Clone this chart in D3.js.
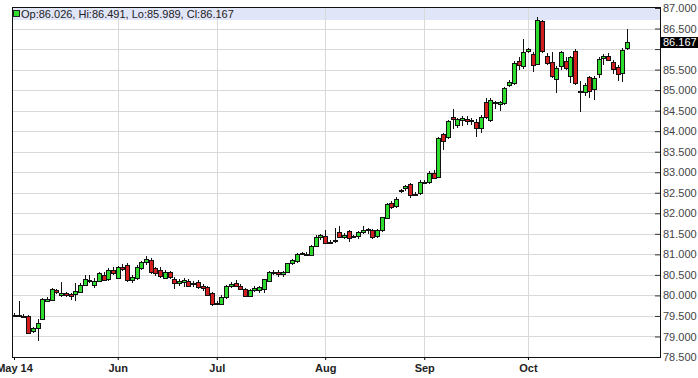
<!DOCTYPE html>
<html>
<head>
<meta charset="utf-8">
<script src="https://cdn.jsdelivr.net/npm/d3@7"></script>
<style>
    body { margin: 0; background: #fff; }
    svg { display: block; font-family: Arial, "Liberation Sans", sans-serif; }
    .yLabel text { font-size: 11px; fill: #444; }
    .xLabel text { font-size: 11px; font-weight: bold; fill: #222; }
</style>
</head>
<body>
<svg width="698" height="378"></svg>
<script>
// daily candles, May 1 2014 -> Oct 30 2014 (weekdays)
const opens = [
    79.52, 79.53, 79.51, 79.50, 79.12, 79.22, 79.42, 79.85, 79.89, 80.12,
    79.99, 80.05, 80.03, 80.03, 80.09, 80.25, 80.38, 80.26, 80.35, 80.49,
    80.40, 80.62, 80.42, 80.70, 80.74, 80.37, 80.44, 80.68, 80.80, 80.86,
    80.66, 80.62, 80.44, 80.56, 80.40, 80.31, 80.31, 80.36, 80.28, 80.32,
    80.22, 80.20, 80.05, 79.80, 79.81, 79.95, 80.23, 80.30, 80.24, 80.15,
    79.99, 80.13, 80.12, 80.15, 80.37, 80.57, 80.56, 80.52, 80.56, 80.78,
    80.84, 81.03, 81.02, 81.00, 81.21, 81.40, 81.45, 81.31, 81.33, 81.54,
    81.43, 81.57, 81.45, 81.45, 81.53, 81.60, 81.59, 81.45, 81.58, 81.88,
    82.24, 82.19, 82.57, 82.61, 82.71, 82.48, 82.49, 82.77, 82.76, 82.99,
    82.88, 83.92, 83.85, 84.35, 84.15, 84.25, 84.30, 84.24, 84.23, 84.09,
    84.72, 84.27, 84.71, 84.66, 84.68, 85.12, 85.17, 85.71, 85.61, 85.94,
    85.87, 85.65, 86.68, 85.84, 85.68, 85.26, 85.57, 85.72, 85.34, 85.95,
    84.98, 84.96, 85.31, 85.04, 85.38, 85.78, 85.84, 85.69, 85.57, 85.41,
    86.026
];
const highs = [
    79.56, 79.87, 79.55, 79.52, 79.22, 79.42, 79.93, 79.95, 80.18, 80.16,
    80.33, 80.08, 80.05, 80.30, 80.30, 80.50, 80.50, 80.42, 80.58, 80.56,
    80.66, 80.68, 80.72, 80.76, 80.80, 80.50, 80.75, 80.85, 80.95, 80.90,
    80.70, 80.68, 80.62, 80.60, 80.45, 80.40, 80.42, 80.40, 80.36, 80.38,
    80.28, 80.24, 80.08, 79.86, 80.00, 80.25, 80.33, 80.38, 80.28, 80.18,
    80.15, 80.22, 80.24, 80.40, 80.60, 80.62, 80.63, 80.60, 80.80, 80.88,
    81.04, 81.06, 81.05, 81.23, 81.46, 81.50, 81.59, 81.35, 81.65, 81.69,
    81.52, 81.60, 81.48, 81.58, 81.69, 81.64, 81.62, 81.62, 81.92, 82.24,
    82.30, 82.40, 82.60, 82.70, 82.74, 82.52, 82.80, 82.80, 83.02, 83.05,
    83.86, 83.96, 84.28, 84.53, 84.33, 84.38, 84.36, 84.32, 84.30, 84.40,
    84.80, 84.80, 84.74, 84.74, 85.08, 85.24, 85.70, 85.80, 86.24, 86.02,
    85.92, 86.79, 86.71, 85.90, 85.94, 85.58, 85.96, 85.80, 85.84, 86.00,
    85.22, 85.18, 85.35, 85.34, 85.80, 85.88, 85.90, 85.73, 85.62, 86.02,
    86.491
];
const lows = [
    79.48, 79.48, 79.46, 79.06, 79.08, 78.90, 79.40, 79.83, 79.86, 80.04,
    79.97, 79.95, 79.89, 79.87, 80.05, 80.22, 80.30, 80.18, 80.32, 80.34,
    80.36, 80.50, 80.40, 80.60, 80.32, 80.30, 80.37, 80.62, 80.74, 80.52,
    80.48, 80.42, 80.40, 80.40, 80.15, 80.22, 80.20, 80.22, 80.20, 80.15,
    80.10, 79.98, 79.74, 79.76, 79.78, 79.92, 80.18, 80.20, 80.12, 79.96,
    79.95, 80.08, 80.06, 80.06, 80.34, 80.50, 80.46, 80.46, 80.54, 80.74,
    80.80, 80.98, 80.96, 80.97, 81.18, 81.35, 81.25, 81.26, 81.28, 81.40,
    81.38, 81.30, 81.40, 81.38, 81.50, 81.50, 81.38, 81.40, 81.55, 81.85,
    82.10, 82.12, 82.50, 82.55, 82.38, 82.42, 82.45, 82.72, 82.72, 82.85,
    82.86, 83.55, 83.80, 84.05, 84.08, 84.12, 84.15, 84.16, 83.87, 83.95,
    84.30, 84.22, 84.55, 84.48, 84.63, 85.08, 85.13, 85.50, 85.51, 85.90,
    85.45, 85.62, 85.90, 85.60, 85.30, 84.94, 85.50, 85.50, 85.17, 85.12,
    84.47, 84.85, 84.80, 84.76, 85.30, 85.60, 85.70, 85.40, 85.22, 85.20,
    85.989
];
const closes = [
    79.53, 79.51, 79.50, 79.08, 79.20, 79.34, 79.91, 79.91, 80.16, 80.08,
    80.05, 79.99, 79.97, 80.11, 80.25, 80.39, 80.36, 80.35, 80.55, 80.38,
    80.62, 80.55, 80.68, 80.64, 80.37, 80.44, 80.70, 80.82, 80.88, 80.56,
    80.55, 80.47, 80.58, 80.44, 80.31, 80.35, 80.37, 80.25, 80.30, 80.21,
    80.18, 80.01, 79.78, 79.81, 79.97, 80.23, 80.28, 80.23, 80.17, 79.99,
    80.13, 80.17, 80.20, 80.39, 80.58, 80.56, 80.52, 80.58, 80.78, 80.86,
    81.02, 81.02, 81.01, 81.21, 81.43, 81.46, 81.29, 81.31, 81.34, 81.43,
    81.48, 81.39, 81.44, 81.55, 81.59, 81.61, 81.41, 81.59, 81.90, 82.22,
    82.15, 82.35, 82.57, 82.67, 82.43, 82.47, 82.76, 82.77, 82.99, 82.88,
    83.83, 83.76, 84.25, 84.29, 84.30, 84.31, 84.26, 84.27, 84.09, 84.35,
    84.35, 84.76, 84.69, 84.70, 85.04, 85.20, 85.65, 85.61, 85.94, 85.99,
    85.61, 86.71, 85.94, 85.68, 85.33, 85.53, 85.92, 85.56, 85.81, 85.17,
    84.96, 85.12, 84.96, 85.30, 85.75, 85.84, 85.75, 85.51, 85.41, 85.98,
    86.167
];

const monthNames = ["May 14", "Jun", "Jul", "Aug", "Sep", "Oct"];
const yTicks = [78.5, 79, 79.5, 80, 80.5, 81, 81.5, 82, 82.5, 83, 83.5, 84, 84.5, 85, 85.5, 86, 86.5, 87];

const up = "#2ddc2d";
const down = "#d21e1e";
const ink = "#111";

//general layout information
const plotLeft = 12;
const plotRight = 660;
const plotTop = 7;
const plotBottom = 357;

let svg = d3.select("svg");
svg.append("rect").attr("width", 698).attr("height", 378).attr("fill", "#fff");

//trading days (weekdays)
const days = d3.timeDay
    .range(new Date(2014, 4, 1), new Date(2014, 9, 31))
    .filter((d) => d.getDay() % 6 != 0);

const data = days.map((d, i) => ({
    i: i,
    date: d,
    o: opens[i],
    h: highs[i],
    l: lows[i],
    c: closes[i],
}));

//first trading day of each month
let monthIdx = [];
days.forEach((d, i) => {
    if (i == 0 || d.getMonth() != days[i - 1].getMonth()) monthIdx.push(i);
});

const x = d3.scaleLinear().domain([-0.42, days.length + 6]).range([plotLeft, plotRight]);
const y = d3.scaleLinear().domain([78.5, 87]).range([plotBottom, plotTop + 1]);

const px = (v) => Math.round(v) + 0.5;

//legend band
svg.append("rect")
    .attr("x", plotLeft)
    .attr("y", plotTop)
    .attr("width", plotRight - plotLeft)
    .attr("height", 13)
    .attr("fill", "#e1e5f8");

//grid
svg.append("g")
    .selectAll("line")
    .data(yTicks.filter((d) => d > 78.5 && d < 87))
    .enter()
    .append("line")
    .attr("x1", plotLeft)
    .attr("x2", plotRight)
    .attr("y1", (d) => px(y(d)))
    .attr("y2", (d) => px(y(d)))
    .attr("stroke", "#d9d9d9");

svg.append("g")
    .selectAll("line")
    .data(monthIdx.slice(1))
    .enter()
    .append("line")
    .attr("x1", (d) => px(x(d)))
    .attr("x2", (d) => px(x(d)))
    .attr("y1", plotTop)
    .attr("y2", plotBottom)
    .attr("stroke", "#d9d9d9");

//candles
let candles = svg.append("g").selectAll("g").data(data).enter().append("g");

candles.append("line")
    .attr("x1", (d) => px(x(d.i)))
    .attr("x2", (d) => px(x(d.i)))
    .attr("y1", (d) => Math.round(y(d.h)))
    .attr("y2", (d) => Math.round(y(d.l)))
    .attr("stroke", ink);

candles.append("rect")
    .attr("x", (d) => px(x(d.i)) - 2)
    .attr("y", (d) => px(y(Math.max(d.o, d.c))))
    .attr("width", 4)
    .attr("height", (d) => Math.max(1, Math.round(Math.abs(y(d.o) - y(d.c)))))
    .attr("fill", (d) => (d.c >= d.o ? up : down))
    .attr("stroke", ink);

//axes
svg.append("g")
    .attr("class", "yLabel")
    .attr("transform", "translate(" + plotRight + ",0)")
    .call(
        d3.axisRight(y)
            .tickValues(yTicks)
            .tickSizeInner(-5)
            .tickSizeOuter(0)
            .tickPadding(3)
            .tickFormat(d3.format(".3f"))
    )
    .call((g) => g.select(".domain").remove())
    .call((g) => g.selectAll(".tick line").attr("stroke", "#333"))
    .call((g) => g.selectAll(".tick").filter((d) => d == 86).select("text").remove());

svg.append("g")
    .attr("class", "xLabel")
    .attr("transform", "translate(0," + plotBottom + ")")
    .call(
        d3.axisBottom(x)
            .tickValues(monthIdx)
            .tickSizeInner(3)
            .tickSizeOuter(0)
            .tickPadding(4)
            .tickFormat((d, i) => monthNames[i])
    )
    .call((g) => g.select(".domain").remove());

//frame
const frame = svg.append("g").attr("stroke", ink).attr("fill", "none");
frame.append("line").attr("x1", plotLeft).attr("x2", plotRight).attr("y1", plotTop + 0.5).attr("y2", plotTop + 0.5);
frame.append("line").attr("x1", plotLeft).attr("x2", plotRight + 1).attr("y1", plotBottom + 0.5).attr("y2", plotBottom + 0.5);
frame.append("line").attr("x1", plotLeft + 0.5).attr("x2", plotLeft + 0.5).attr("y1", plotTop).attr("y2", plotBottom + 1);
frame.append("line").attr("x1", plotRight + 0.5).attr("x2", plotRight + 0.5).attr("y1", plotTop).attr("y2", plotBottom + 1);

//legend with last candle
const last = data[data.length - 1];
const f3 = d3.format(".3f");
svg.append("rect")
    .attr("x", 13.5)
    .attr("y", 10.5)
    .attr("width", 6)
    .attr("height", 6)
    .attr("fill", last.c >= last.o ? up : down)
    .attr("stroke", "#222");
svg.append("text")
    .attr("x", 21)
    .attr("y", 17.5)
    .attr("font-size", "11px")
    .attr("fill", "#222")
    .text("Op:" + f3(last.o) + ", Hi:" + f3(last.h) + ", Lo:" + f3(last.l) + ", Cl:" + f3(last.c));

//last price marker
svg.append("rect")
    .attr("x", plotRight + 1)
    .attr("y", Math.round(y(last.c)) - 5)
    .attr("width", 37)
    .attr("height", 11)
    .attr("fill", "#000");
svg.append("text")
    .attr("x", plotRight + 3)
    .attr("y", Math.round(y(last.c)) + 4)
    .attr("font-size", "11px")
    .attr("fill", "#fff")
    .text(f3(last.c));
</script>
</body>
</html>
